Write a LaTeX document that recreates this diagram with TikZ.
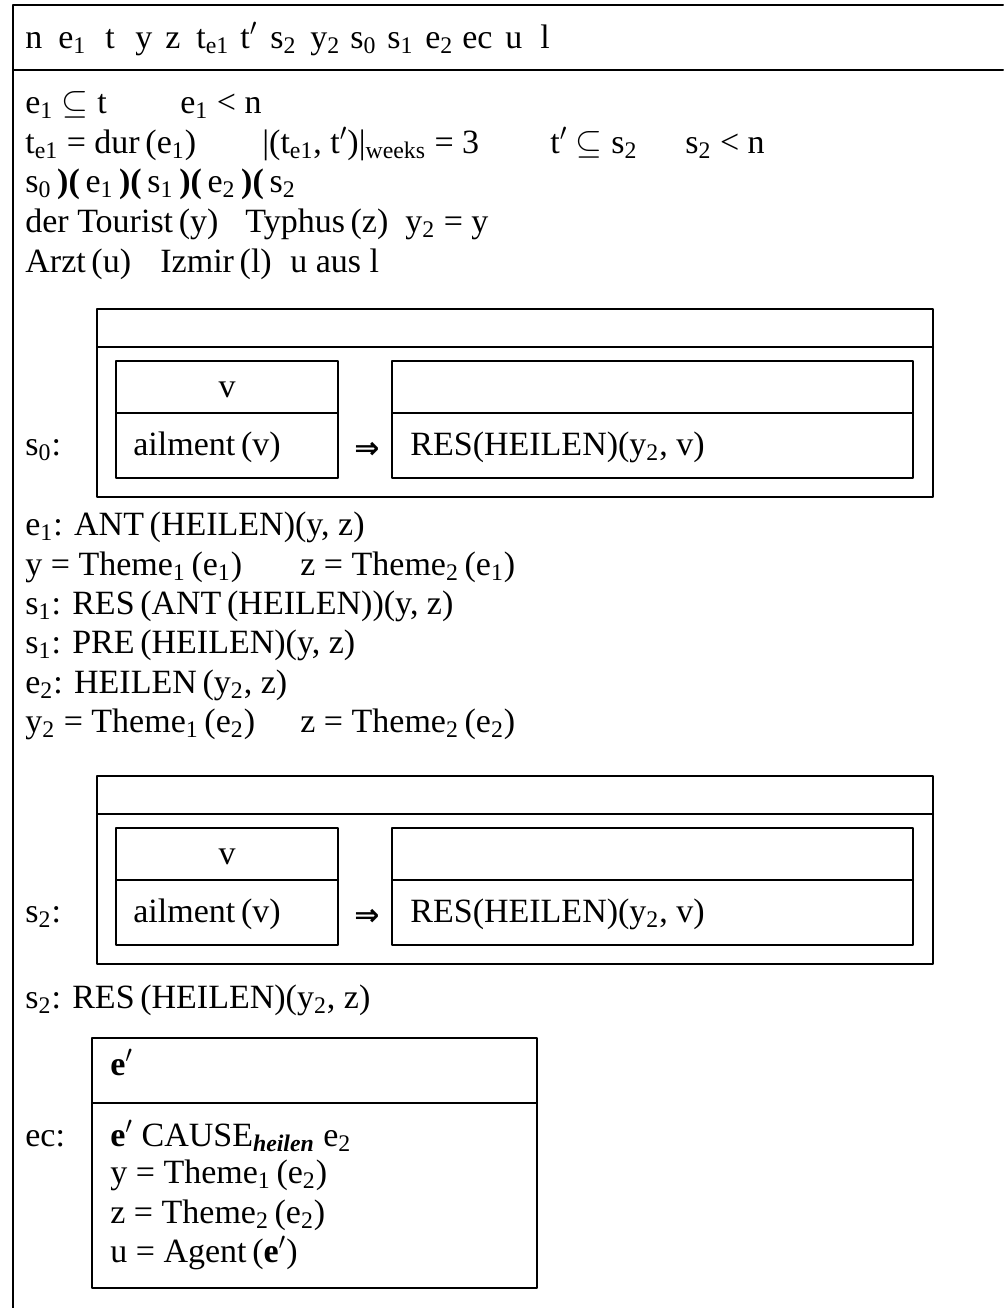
\documentclass[tikz,border=0pt]{standalone}
\usepackage{fontspec}
\setmainfont{Liberation Serif}
\newfontfamily\arrowfont{DejaVu Sans}
\newcommand{\ix}[1]{\textsubscript{#1}}
\begin{document}
\begin{tikzpicture}[x=0.5pt, y=-0.5pt, font=\fontsize{17}{19}\selectfont, line join=round, line cap=round,
  every node/.style={anchor=base west, inner sep=0pt, text height=11pt, text depth=3pt}, rule/.style={line width=1pt}]
\useasboundingbox (0,0) rectangle (1003,1308);
%Rahmen
\draw[rule] (1003,5) -- (13,5) -- (13,1308) (13,70) -- (1003,70);
%Kopf
\foreach \x/\t [count=\i] in {25/n, 58/e\ix{1}, 105/t, 135/y, 165/z, 196/t\ix{e1}, 240/t$'$, 270/s\ix{2},
  310/y\ix{2}, 350/s\ix{0}, 387/s\ix{1}, 425/e\ix{2}, 462/ec, 505/u, 540/l}
\node (h\i) at (\x,48) {\t};
%Bedingungen
\node (c1) at (25,113) {e\ix{1} $\subseteq$ t};
\node (c2) at (180,113) {e\ix{1} < n};
\node (c3) at (25,153) {t\ix{e1} = dur\,(e\ix{1})};
\node (c4) at (262,153) {|(t\ix{e1}, t$'$)|\ix{weeks} = 3};
\node (c5) at (550,153) {t$'$ $\subseteq$ s\ix{2}};
\node (c6) at (685,153) {s\ix{2} < n};
\node (c7) at (25,192) {s\ix{0}\,\textbf{)(}\,e\ix{1}\,\textbf{)(}\,s\ix{1}\,\textbf{)(}\,e\ix{2}\,\textbf{)(}\,s\ix{2}};
\node (c8) at (25,232) {der Tourist\,(y)};
\node (c9) at (245,232) {Typhus\,(z)};
\node (c10) at (405,232) {y\ix{2} = y};
\node (c11) at (25,272) {Arzt\,(u)};
\node (c12) at (160,272) {Izmir\,(l)};
\node (c13) at (290,272) {u aus l};
%s0 und s2
\foreach \yo/\k in {0/0, 467/2}{
\begin{scope}[shift={(0,\yo)}]
\draw[rule] (97,309) rectangle (933,497) (97,347) -- (933,347);
\draw[rule] (116,361) rectangle (338,478) (116,413) -- (338,413);
\draw[rule] (392,361) rectangle (913,478) (392,413) -- (913,413);
\node (lab\k) at (25,455) {s\ix{\k}:};
\node[anchor=base] (v\k) at (227,397) {v};
\node (ail\k) at (133,455) {ailment\,(v)};
\node[font=\arrowfont\bfseries\fontsize{15}{15}\selectfont] (imp\k) at (354,458) {⇒};
\node (res\k) at (410,455) {RES(HEILEN)(y\ix{2}, v)};
\end{scope}}
\node (m1) at (25,535) {e\ix{1}: ANT\,(HEILEN)(y, z)};
\node (m2) at (25,575) {y = Theme\ix{1}\,(e\ix{1})};
\node (m3) at (300,575) {z = Theme\ix{2}\,(e\ix{1})};
\node (m4) at (25,614) {s\ix{1}: RES\,(ANT\,(HEILEN))(y, z)};
\node (m5) at (25,653) {s\ix{1}: PRE\,(HEILEN)(y, z)};
\node (m6) at (25,693) {e\ix{2}: HEILEN\,(y\ix{2}, z)};
\node (m7) at (25,732) {y\ix{2} = Theme\ix{1}\,(e\ix{2})};
\node (m8) at (300,732) {z = Theme\ix{2}\,(e\ix{2})};
\node (r1) at (25,1008) {s\ix{2}: RES\,(HEILEN)(y\ix{2}, z)};
%ec
\draw[rule] (92,1038) rectangle (537,1288) (92,1103) -- (537,1103);
\node (ec) at (25,1146) {ec:};
\node (ep) at (110,1075) {\textbf{e}$'$};
\node (k1) at (110,1146) {\textbf{e}$'$ CAUSE\ix{\textbf{\textit{heilen}}} e\ix{2}};
\node (k2) at (110,1183) {y = Theme\ix{1}\,(e\ix{2})};
\node (k3) at (110,1223) {z = Theme\ix{2}\,(e\ix{2})};
\node (k4) at (110,1262) {u = Agent\,(\textbf{e}$'$)};
\end{tikzpicture}
\end{document}
